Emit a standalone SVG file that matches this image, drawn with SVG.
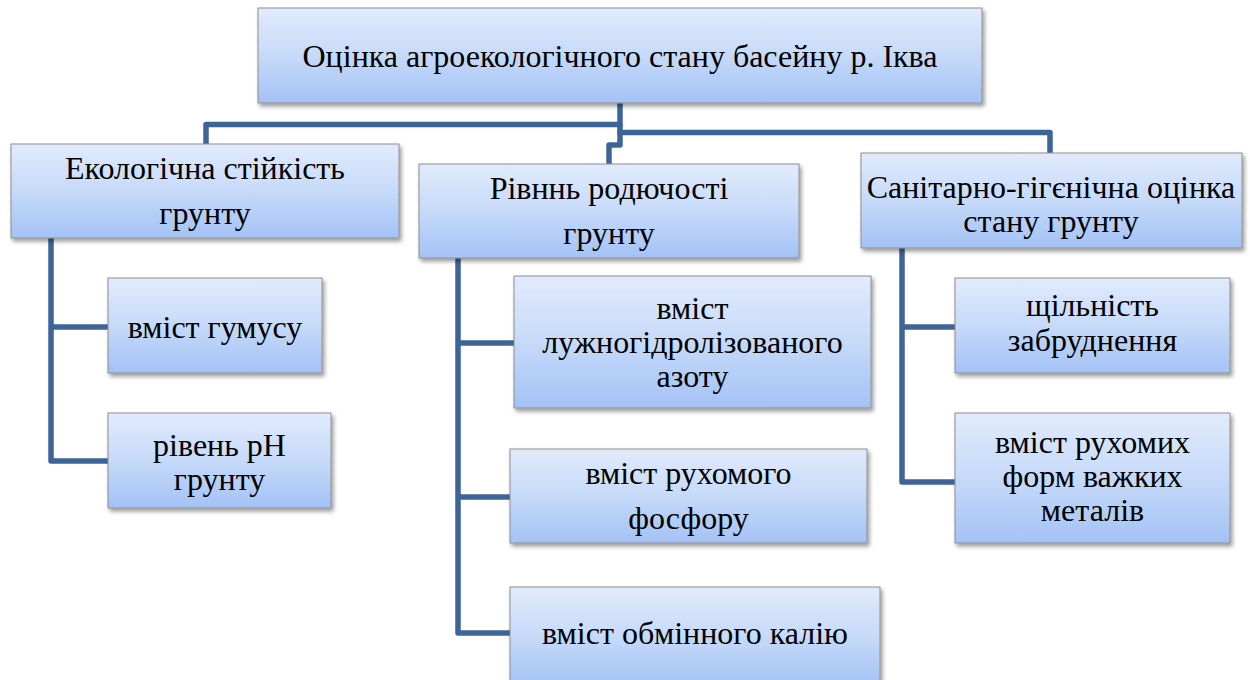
<svg xmlns="http://www.w3.org/2000/svg" width="1250" height="680" viewBox="0 0 1250 680">
<style>
.box{fill:url(#g);stroke:#8e8e8e;stroke-width:1;filter:url(#sh)}
.c{fill:none;stroke:#3e6598;stroke-width:5.5;stroke-linejoin:round;stroke-linecap:butt}
</style>
<defs>
<linearGradient id="g" x1="0" y1="0" x2="0" y2="1">
<stop offset="0" stop-color="#e1ebfc"/>
<stop offset="0.5" stop-color="#c6daf9"/>
<stop offset="1" stop-color="#a3c2f5"/>
</linearGradient>
<filter id="sh" x="-10%" y="-10%" width="125%" height="135%">
<feDropShadow dx="2" dy="3" stdDeviation="2" flood-color="#000" flood-opacity="0.4"/>
</filter>
</defs>
<g id="connectors">
<path class="c" d="M620,103 V124.5 H206 V144"/>
<path class="c" d="M620,124 V132.5 H1050 V153"/>
<path class="c" d="M620,130 V145 H609 V164"/>
<path class="c" d="M51,238 V461 H108"/>
<path class="c" d="M51,327 H108"/>
<path class="c" d="M458,258 V633 H510"/>
<path class="c" d="M458,343 H514"/>
<path class="c" d="M458,497 H510"/>
<path class="c" d="M902,248 V482 H955"/>
<path class="c" d="M902,327 H955"/>
</g>
<g font-family="'Liberation Serif', 'Times New Roman', serif" font-size="32" text-anchor="middle" fill="#000">
<g id="root">
<rect class="box" x="258" y="8" width="724" height="95"/>
<text x="620" y="67">Оцінка агроекологічного стану басейну р. Іква</text>
</g>
<g id="eco">
<rect class="box" x="11" y="144" width="388" height="94"/>
<text x="205" y="179">Екологічна стійкість</text>
<text x="205" y="224">грунту</text>
</g>
<g id="fert">
<rect class="box" x="419" y="164" width="380" height="94"/>
<text x="609" y="199">Рівннь родючості</text>
<text x="609" y="244">грунту</text>
</g>
<g id="sanit">
<rect class="box" x="861" y="153" width="381" height="95"/>
<text x="1051" y="198">Санітарно-гігєнічна оцінка</text>
<text x="1051" y="232">стану грунту</text>
</g>
<g id="humus">
<rect class="box" x="108" y="278" width="214" height="95"/>
<text x="215" y="338">вміст гумусу</text>
</g>
<g id="ph">
<rect class="box" x="108" y="413" width="223" height="95"/>
<text x="219.5" y="456">рівень pH</text>
<text x="219.5" y="490">грунту</text>
</g>
<g id="nitrogen">
<rect class="box" x="514" y="276" width="357" height="132"/>
<text x="692.5" y="319">вміст</text>
<text x="692.5" y="353">лужногідролізованого</text>
<text x="692.5" y="387">азоту</text>
</g>
<g id="phosphorus">
<rect class="box" x="510" y="449" width="357" height="94"/>
<text x="688.5" y="484">вміст рухомого</text>
<text x="688.5" y="529">фосфору</text>
</g>
<g id="potassium">
<rect class="box" x="510" y="587" width="370" height="100"/>
<text x="695" y="644">вміст обмінного калію</text>
</g>
<g id="density">
<rect class="box" x="955" y="278" width="275" height="95"/>
<text x="1092.5" y="316">щільність</text>
<text x="1092.5" y="351">забруднення</text>
</g>
<g id="metals">
<rect class="box" x="955" y="413" width="275" height="130"/>
<text x="1092.5" y="453">вміст рухомих</text>
<text x="1092.5" y="487">форм важких</text>
<text x="1092.5" y="521">металів</text>
</g>
</g>
</svg>
